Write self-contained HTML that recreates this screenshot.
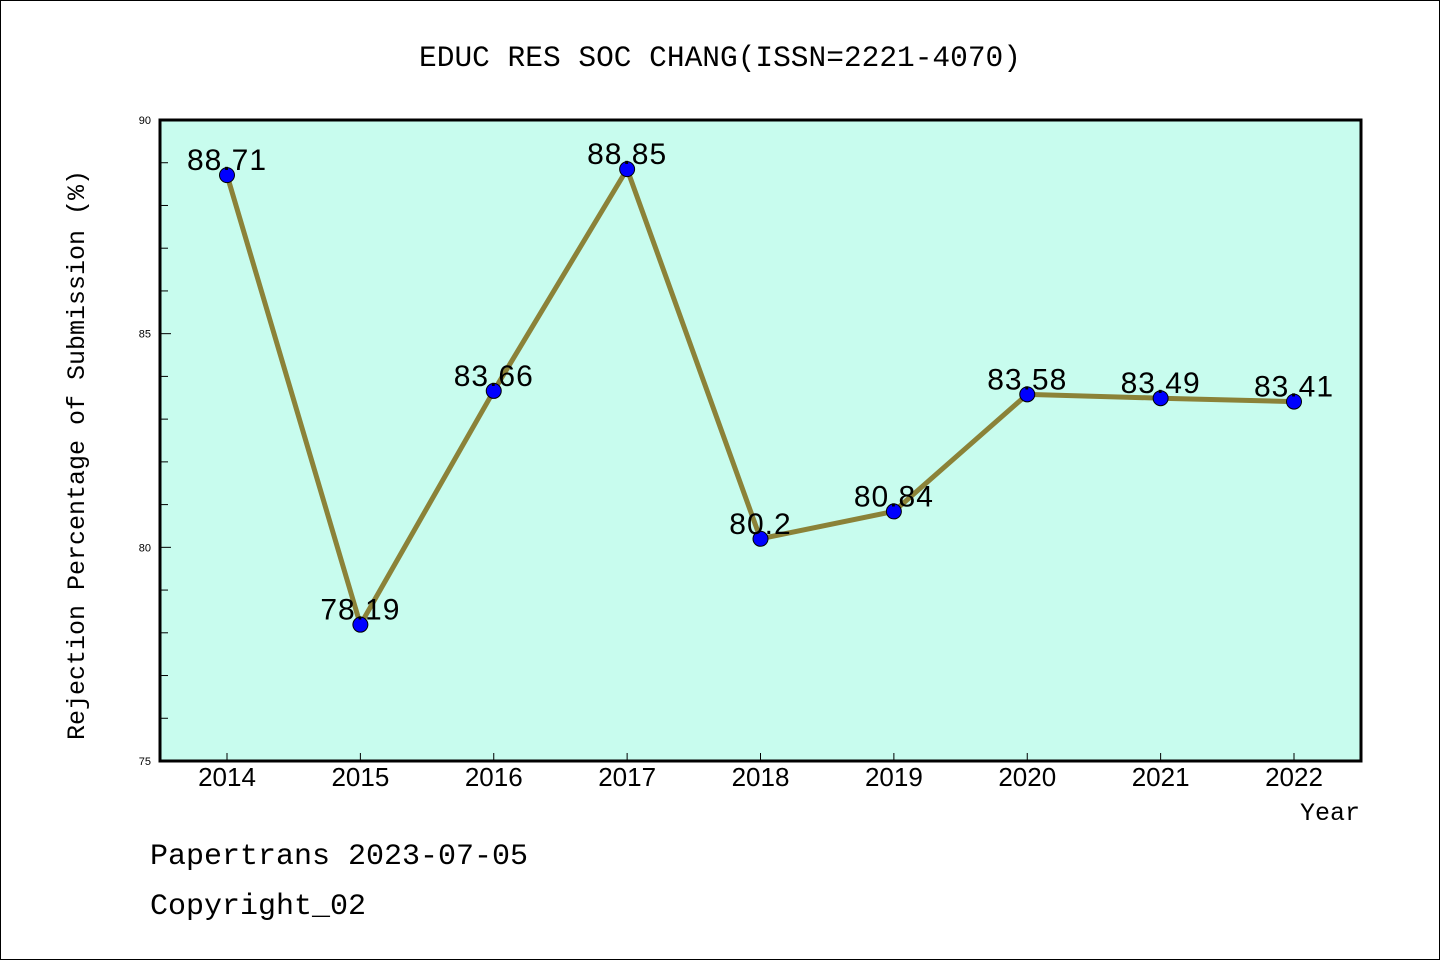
<!DOCTYPE html>
<html><head><meta charset="utf-8"><style>
html,body{margin:0;padding:0;background:#fff}
svg{display:block}
.mono{font-family:"Liberation Mono",monospace}
.sans{font-family:"Liberation Sans","DejaVu Sans",sans-serif}
</style></head><body>
<svg id="chart" width="1440" height="960" xmlns="http://www.w3.org/2000/svg">
<rect x="0.5" y="0.5" width="1439" height="959" fill="#fff" stroke="#000"/>
<text class="mono" x="720" y="66" font-size="29.5" text-anchor="middle">EDUC RES SOC CHANG(ISSN=2221-4070)</text>
<rect x="160" y="120" width="1201" height="641" fill="#c8fcee"/>
<g id="ticks"></g>
<g id="series"></g>
<rect x="160" y="120" width="1201" height="641" fill="none" stroke="#000" stroke-width="3"/>
<text class="mono" transform="translate(84,455) rotate(-90)" font-size="25" text-anchor="middle">Rejection Percentage of Submission (%)</text>
<text class="mono" x="1360" y="820" font-size="25" text-anchor="end">Year</text>
<text class="mono" x="150" y="864" font-size="30">Papertrans 2023-07-05</text>
<text class="mono" x="150" y="914" font-size="30">Copyright_02</text>
</svg>
<script>
const years=[2014,2015,2016,2017,2018,2019,2020,2021,2022];
const values=[88.71,78.19,83.66,88.85,80.2,80.84,83.58,83.49,83.41];
const labels=["88.71","78.19","83.66","88.85","80.2","80.84","83.58","83.49","83.41"];
const yTicks=[75,80,85,90];
const NS="http://www.w3.org/2000/svg";
function xs(y){return 227+(y-2014)*(1294-227)/8;}
function ys(v){return 761-(v-75)*(761-120)/15;}
function mk(t,a,p){const e=document.createElementNS(NS,t);for(const k in a)e.setAttribute(k,a[k]);p.appendChild(e);return e;}
const tg=document.getElementById('ticks');
for(let v=75;v<=90;v++){
  const l=mk('line',{x1:160,x2:v%5===0?171:168,y1:ys(v),y2:ys(v),stroke:'#000','stroke-width':1},tg);
  
  
}
yTicks.forEach(v=>{
  const t=mk('text',{x:151,y:ys(v)+4,'font-size':11,'text-anchor':'end',class:'sans'},tg);
  t.textContent=v;
  
  
});
years.forEach(y=>{
  const l=mk('line',{x1:xs(y),x2:xs(y),y1:761,y2:753,stroke:'#000','stroke-width':1},tg);
  
  
  const t=mk('text',{x:xs(y),y:786,'font-size':26,'text-anchor':'middle',class:'sans'},tg);
  t.textContent=y;
  
  
});
const sg=document.getElementById('series');
const pl=mk('polyline',{points:years.map((y,i)=>xs(y)+','+ys(values[i])).join(' '),fill:'none',stroke:'#8b8238','stroke-width':5,'stroke-linejoin':'round'},sg);


years.forEach((y,i)=>{
  const c=mk('circle',{cx:xs(y),cy:ys(values[i]),r:7.5,fill:'#0000ff',stroke:'#000','stroke-width':1},sg);
  
  
});
years.forEach((y,i)=>{
  const t=mk('text',{x:xs(y),y:ys(values[i])-5,'font-size':30,'text-anchor':'middle',class:'sans','letter-spacing':'1'},sg);
  t.textContent=labels[i];
  
  
});
</script>
</body></html>
